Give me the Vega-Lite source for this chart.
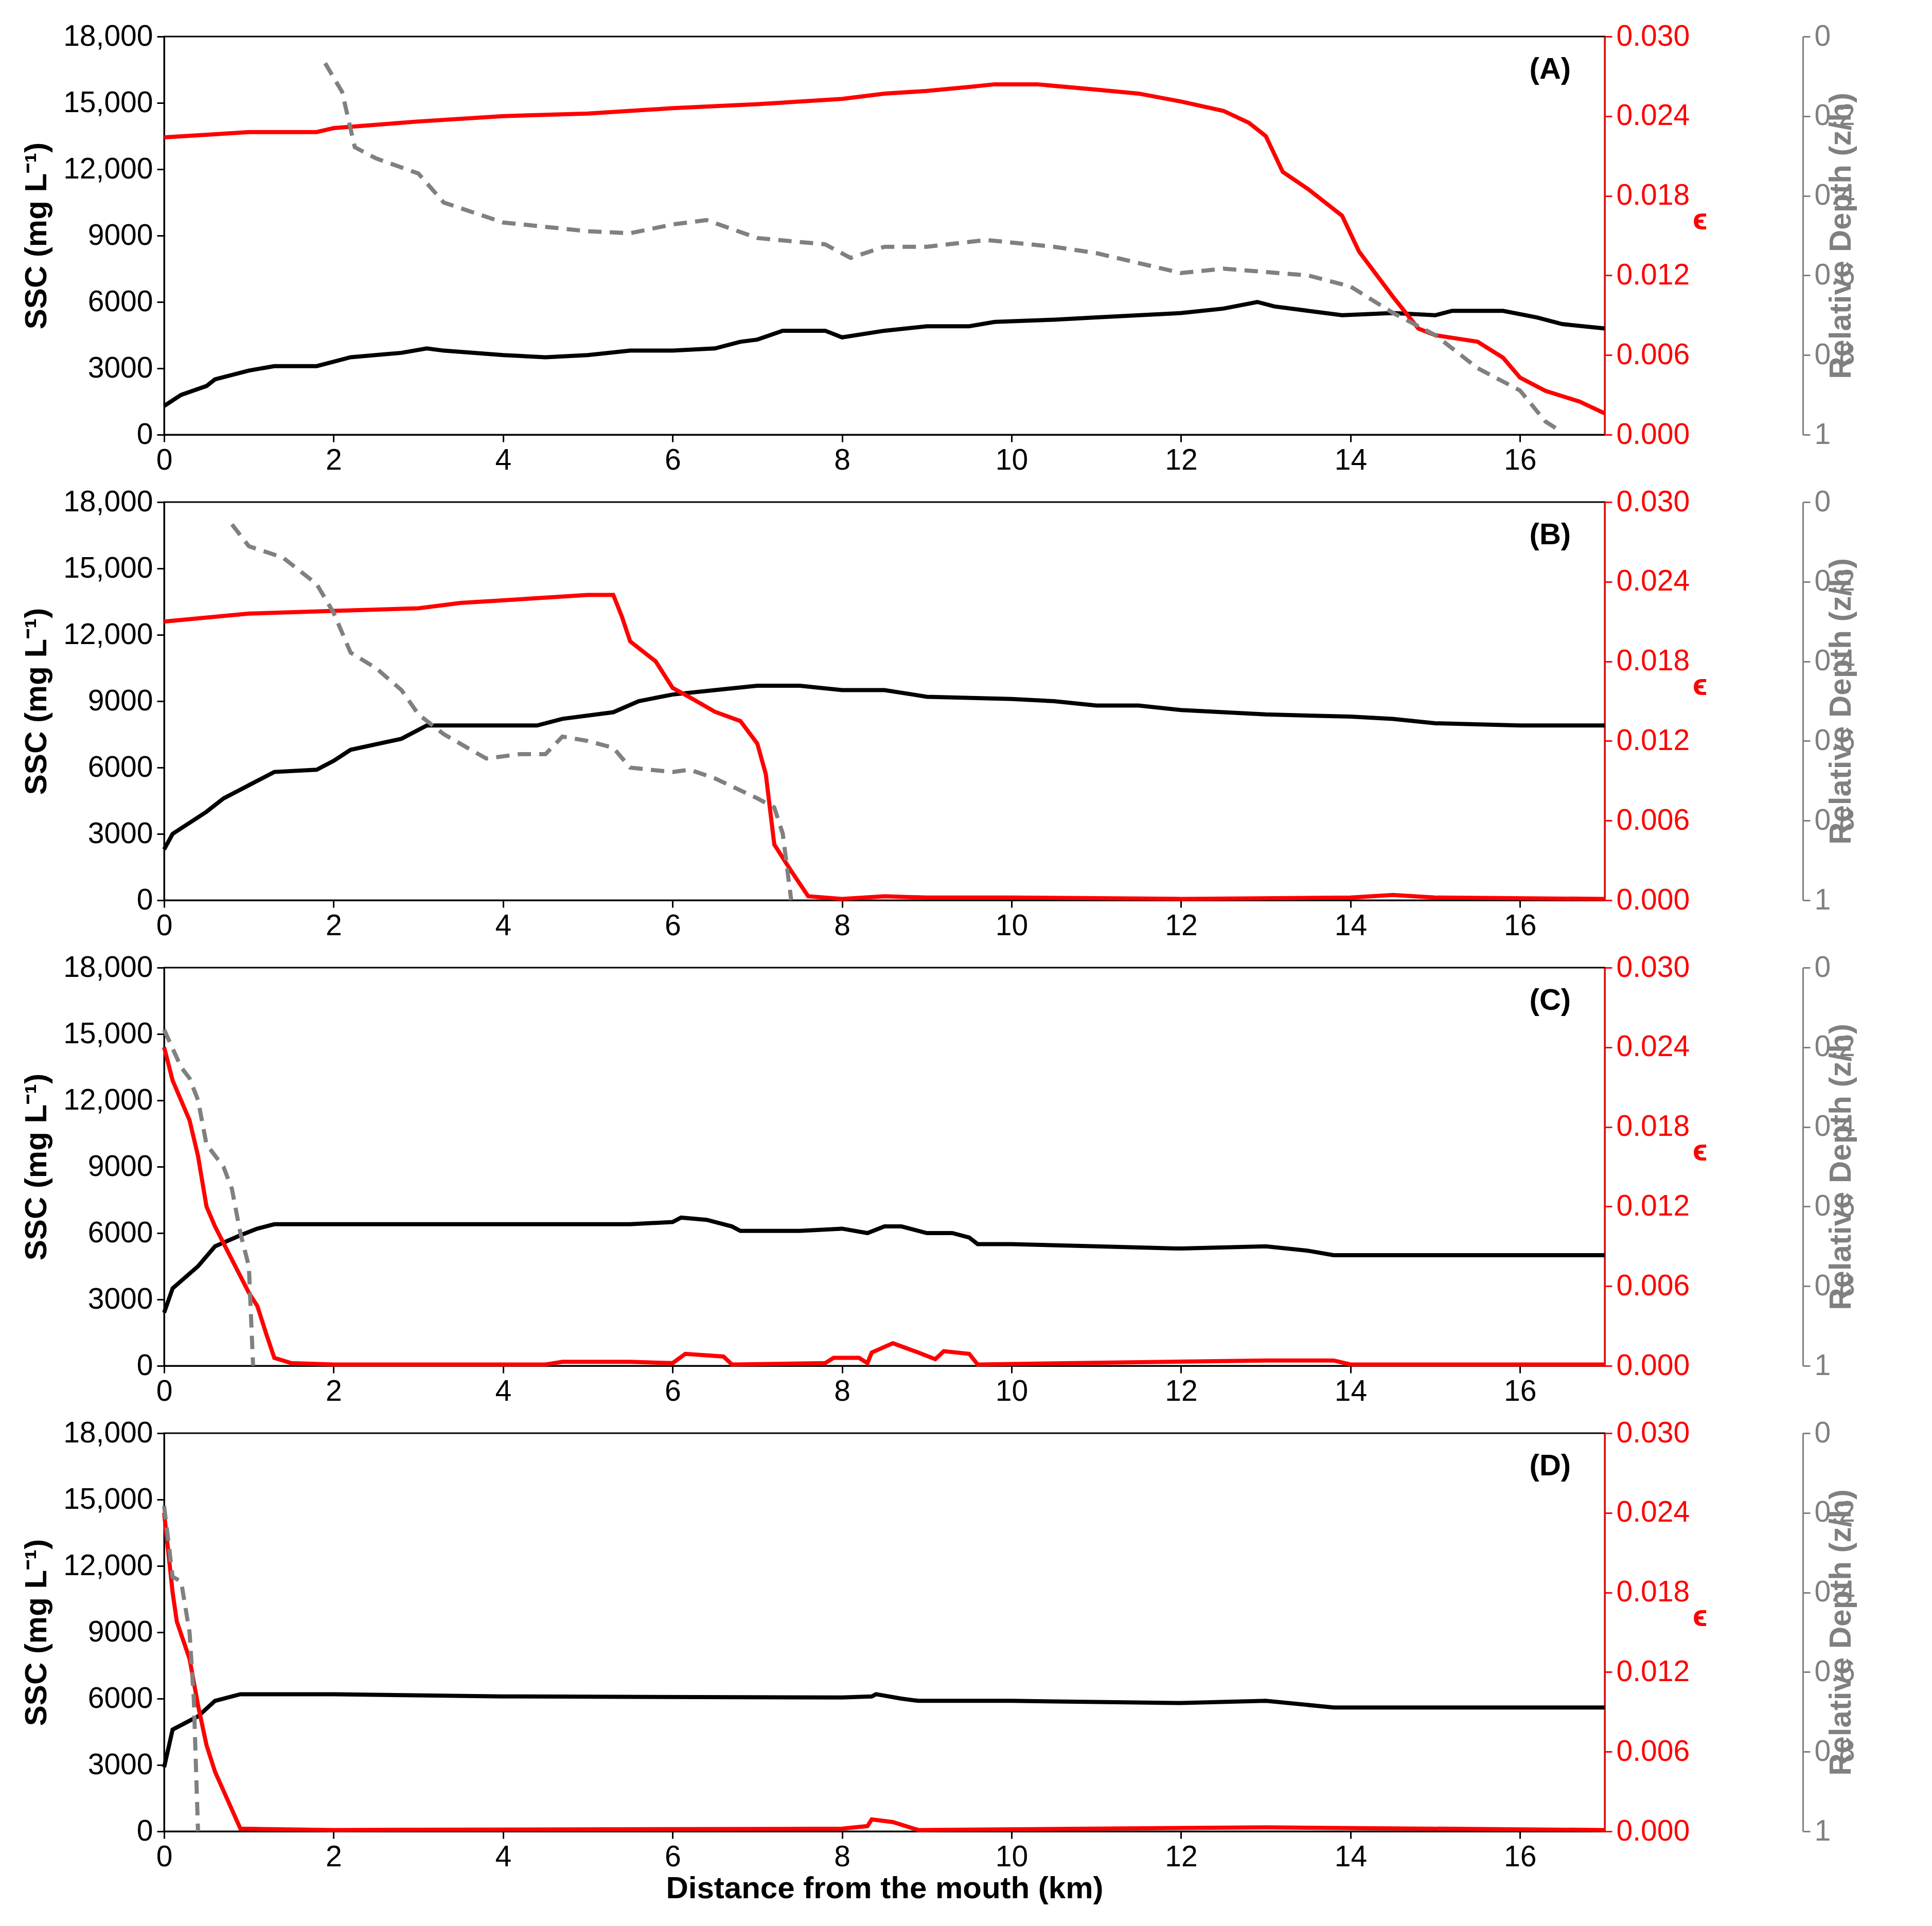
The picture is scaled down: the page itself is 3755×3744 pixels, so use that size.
{
  "$schema": "https://vega.github.io/schema/vega-lite/v6.json",
  "background": "white",
  "padding": {"left": 40, "top": 40, "right": 20, "bottom": 20},
  "datasets": {
    "A": [
      {"s": "ssc", "x": 0, "v": 1300}, {"s": "ssc", "x": 0.2, "v": 1800}, {"s": "ssc", "x": 0.5, "v": 2200}, {"s": "ssc", "x": 0.6, "v": 2500}, {"s": "ssc", "x": 1, "v": 2900}, {"s": "ssc", "x": 1.3, "v": 3100}, {"s": "ssc", "x": 1.8, "v": 3100}, {"s": "ssc", "x": 2, "v": 3300}, {"s": "ssc", "x": 2.2, "v": 3500}, {"s": "ssc", "x": 2.8, "v": 3700}, {"s": "ssc", "x": 3.1, "v": 3900}, {"s": "ssc", "x": 3.3, "v": 3800}, {"s": "ssc", "x": 4, "v": 3600}, {"s": "ssc", "x": 4.5, "v": 3500}, {"s": "ssc", "x": 5, "v": 3600}, {"s": "ssc", "x": 5.5, "v": 3800}, {"s": "ssc", "x": 6, "v": 3800}, {"s": "ssc", "x": 6.5, "v": 3900}, {"s": "ssc", "x": 6.8, "v": 4200}, {"s": "ssc", "x": 7, "v": 4300}, {"s": "ssc", "x": 7.3, "v": 4700}, {"s": "ssc", "x": 7.8, "v": 4700}, {"s": "ssc", "x": 8, "v": 4400}, {"s": "ssc", "x": 8.5, "v": 4700}, {"s": "ssc", "x": 9, "v": 4900}, {"s": "ssc", "x": 9.5, "v": 4900}, {"s": "ssc", "x": 9.8, "v": 5100}, {"s": "ssc", "x": 10.5, "v": 5200}, {"s": "ssc", "x": 11, "v": 5300}, {"s": "ssc", "x": 12, "v": 5500}, {"s": "ssc", "x": 12.5, "v": 5700}, {"s": "ssc", "x": 12.9, "v": 6000}, {"s": "ssc", "x": 13.1, "v": 5800}, {"s": "ssc", "x": 13.5, "v": 5600}, {"s": "ssc", "x": 13.9, "v": 5400}, {"s": "ssc", "x": 14.5, "v": 5500}, {"s": "ssc", "x": 15, "v": 5400}, {"s": "ssc", "x": 15.2, "v": 5600}, {"s": "ssc", "x": 15.8, "v": 5600}, {"s": "ssc", "x": 16.2, "v": 5300}, {"s": "ssc", "x": 16.5, "v": 5000}, {"s": "ssc", "x": 17, "v": 4800},
      {"s": "eps", "x": 0, "v": 0.0224}, {"s": "eps", "x": 0.5, "v": 0.0226}, {"s": "eps", "x": 1, "v": 0.0228}, {"s": "eps", "x": 1.8, "v": 0.0228}, {"s": "eps", "x": 2, "v": 0.0231}, {"s": "eps", "x": 3, "v": 0.0236}, {"s": "eps", "x": 4, "v": 0.024}, {"s": "eps", "x": 5, "v": 0.0242}, {"s": "eps", "x": 6, "v": 0.0246}, {"s": "eps", "x": 7, "v": 0.0249}, {"s": "eps", "x": 8, "v": 0.0253}, {"s": "eps", "x": 8.5, "v": 0.0257}, {"s": "eps", "x": 9, "v": 0.0259}, {"s": "eps", "x": 9.5, "v": 0.0262}, {"s": "eps", "x": 9.8, "v": 0.0264}, {"s": "eps", "x": 10.3, "v": 0.0264}, {"s": "eps", "x": 11, "v": 0.026}, {"s": "eps", "x": 11.5, "v": 0.0257}, {"s": "eps", "x": 12, "v": 0.0251}, {"s": "eps", "x": 12.5, "v": 0.0244}, {"s": "eps", "x": 12.8, "v": 0.0235}, {"s": "eps", "x": 13, "v": 0.0225}, {"s": "eps", "x": 13.2, "v": 0.0198}, {"s": "eps", "x": 13.5, "v": 0.0185}, {"s": "eps", "x": 13.9, "v": 0.0165}, {"s": "eps", "x": 14.1, "v": 0.0138}, {"s": "eps", "x": 14.5, "v": 0.0104}, {"s": "eps", "x": 14.8, "v": 0.008}, {"s": "eps", "x": 15, "v": 0.0075}, {"s": "eps", "x": 15.5, "v": 0.007}, {"s": "eps", "x": 15.8, "v": 0.0058}, {"s": "eps", "x": 16, "v": 0.0043}, {"s": "eps", "x": 16.3, "v": 0.0033}, {"s": "eps", "x": 16.7, "v": 0.0025}, {"s": "eps", "x": 17, "v": 0.0016},
      {"s": "dep", "x": 1.9, "v": 0.067}, {"s": "dep", "x": 2.1, "v": 0.139}, {"s": "dep", "x": 2.25, "v": 0.278}, {"s": "dep", "x": 2.5, "v": 0.306}, {"s": "dep", "x": 3, "v": 0.344}, {"s": "dep", "x": 3.3, "v": 0.417}, {"s": "dep", "x": 4, "v": 0.467}, {"s": "dep", "x": 5, "v": 0.489}, {"s": "dep", "x": 5.5, "v": 0.494}, {"s": "dep", "x": 6, "v": 0.472}, {"s": "dep", "x": 6.4, "v": 0.461}, {"s": "dep", "x": 7, "v": 0.506}, {"s": "dep", "x": 7.8, "v": 0.522}, {"s": "dep", "x": 8.1, "v": 0.556}, {"s": "dep", "x": 8.5, "v": 0.528}, {"s": "dep", "x": 9, "v": 0.528}, {"s": "dep", "x": 9.7, "v": 0.511}, {"s": "dep", "x": 10.5, "v": 0.528}, {"s": "dep", "x": 11, "v": 0.544}, {"s": "dep", "x": 12, "v": 0.594}, {"s": "dep", "x": 12.5, "v": 0.583}, {"s": "dep", "x": 13.5, "v": 0.6}, {"s": "dep", "x": 14, "v": 0.628}, {"s": "dep", "x": 14.5, "v": 0.694}, {"s": "dep", "x": 15, "v": 0.75}, {"s": "dep", "x": 15.5, "v": 0.833}, {"s": "dep", "x": 16, "v": 0.889}, {"s": "dep", "x": 16.3, "v": 0.967}, {"s": "dep", "x": 16.5, "v": 0.994}
    ],
    "B": [
      {"s": "ssc", "x": 0, "v": 2300}, {"s": "ssc", "x": 0.1, "v": 3000}, {"s": "ssc", "x": 0.5, "v": 4000}, {"s": "ssc", "x": 0.7, "v": 4600}, {"s": "ssc", "x": 1, "v": 5200}, {"s": "ssc", "x": 1.3, "v": 5800}, {"s": "ssc", "x": 1.8, "v": 5900}, {"s": "ssc", "x": 2, "v": 6300}, {"s": "ssc", "x": 2.2, "v": 6800}, {"s": "ssc", "x": 2.8, "v": 7300}, {"s": "ssc", "x": 3.1, "v": 7900}, {"s": "ssc", "x": 3.3, "v": 7900}, {"s": "ssc", "x": 4, "v": 7900}, {"s": "ssc", "x": 4.4, "v": 7900}, {"s": "ssc", "x": 4.7, "v": 8200}, {"s": "ssc", "x": 5.3, "v": 8500}, {"s": "ssc", "x": 5.6, "v": 9000}, {"s": "ssc", "x": 6, "v": 9300}, {"s": "ssc", "x": 6.5, "v": 9500}, {"s": "ssc", "x": 7, "v": 9700}, {"s": "ssc", "x": 7.5, "v": 9700}, {"s": "ssc", "x": 8, "v": 9500}, {"s": "ssc", "x": 8.5, "v": 9500}, {"s": "ssc", "x": 9, "v": 9200}, {"s": "ssc", "x": 10, "v": 9100}, {"s": "ssc", "x": 10.5, "v": 9000}, {"s": "ssc", "x": 11, "v": 8800}, {"s": "ssc", "x": 11.5, "v": 8800}, {"s": "ssc", "x": 12, "v": 8600}, {"s": "ssc", "x": 13, "v": 8400}, {"s": "ssc", "x": 14, "v": 8300}, {"s": "ssc", "x": 14.5, "v": 8200}, {"s": "ssc", "x": 15, "v": 8000}, {"s": "ssc", "x": 16, "v": 7900}, {"s": "ssc", "x": 17, "v": 7900},
      {"s": "eps", "x": 0, "v": 0.021}, {"s": "eps", "x": 1, "v": 0.0216}, {"s": "eps", "x": 2, "v": 0.0218}, {"s": "eps", "x": 3, "v": 0.022}, {"s": "eps", "x": 3.5, "v": 0.0224}, {"s": "eps", "x": 4, "v": 0.0226}, {"s": "eps", "x": 4.5, "v": 0.0228}, {"s": "eps", "x": 5, "v": 0.023}, {"s": "eps", "x": 5.3, "v": 0.023}, {"s": "eps", "x": 5.4, "v": 0.0214}, {"s": "eps", "x": 5.5, "v": 0.0195}, {"s": "eps", "x": 5.8, "v": 0.018}, {"s": "eps", "x": 6, "v": 0.016}, {"s": "eps", "x": 6.2, "v": 0.0153}, {"s": "eps", "x": 6.5, "v": 0.0142}, {"s": "eps", "x": 6.8, "v": 0.0135}, {"s": "eps", "x": 7, "v": 0.0118}, {"s": "eps", "x": 7.1, "v": 0.0095}, {"s": "eps", "x": 7.2, "v": 0.0042}, {"s": "eps", "x": 7.4, "v": 0.0022}, {"s": "eps", "x": 7.6, "v": 0.0003}, {"s": "eps", "x": 8, "v": 0.0001}, {"s": "eps", "x": 8.5, "v": 0.0003}, {"s": "eps", "x": 9, "v": 0.0002}, {"s": "eps", "x": 10, "v": 0.0002}, {"s": "eps", "x": 12, "v": 0.0001}, {"s": "eps", "x": 14, "v": 0.0002}, {"s": "eps", "x": 14.5, "v": 0.0004}, {"s": "eps", "x": 15, "v": 0.0002}, {"s": "eps", "x": 17, "v": 0.0001},
      {"s": "dep", "x": 0.8, "v": 0.056}, {"s": "dep", "x": 1, "v": 0.111}, {"s": "dep", "x": 1.4, "v": 0.139}, {"s": "dep", "x": 1.8, "v": 0.206}, {"s": "dep", "x": 2, "v": 0.278}, {"s": "dep", "x": 2.2, "v": 0.378}, {"s": "dep", "x": 2.5, "v": 0.417}, {"s": "dep", "x": 2.8, "v": 0.472}, {"s": "dep", "x": 3, "v": 0.533}, {"s": "dep", "x": 3.3, "v": 0.583}, {"s": "dep", "x": 3.8, "v": 0.644}, {"s": "dep", "x": 4.2, "v": 0.633}, {"s": "dep", "x": 4.5, "v": 0.633}, {"s": "dep", "x": 4.7, "v": 0.589}, {"s": "dep", "x": 5, "v": 0.6}, {"s": "dep", "x": 5.3, "v": 0.617}, {"s": "dep", "x": 5.5, "v": 0.667}, {"s": "dep", "x": 6, "v": 0.678}, {"s": "dep", "x": 6.2, "v": 0.672}, {"s": "dep", "x": 6.5, "v": 0.694}, {"s": "dep", "x": 7, "v": 0.744}, {"s": "dep", "x": 7.2, "v": 0.767}, {"s": "dep", "x": 7.3, "v": 0.833}, {"s": "dep", "x": 7.35, "v": 0.917}, {"s": "dep", "x": 7.4, "v": 1.0}
    ],
    "C": [
      {"s": "ssc", "x": 0, "v": 2400}, {"s": "ssc", "x": 0.1, "v": 3500}, {"s": "ssc", "x": 0.4, "v": 4500}, {"s": "ssc", "x": 0.6, "v": 5400}, {"s": "ssc", "x": 0.9, "v": 5900}, {"s": "ssc", "x": 1.1, "v": 6200}, {"s": "ssc", "x": 1.3, "v": 6400}, {"s": "ssc", "x": 2, "v": 6400}, {"s": "ssc", "x": 4, "v": 6400}, {"s": "ssc", "x": 5, "v": 6400}, {"s": "ssc", "x": 5.5, "v": 6400}, {"s": "ssc", "x": 6, "v": 6500}, {"s": "ssc", "x": 6.1, "v": 6700}, {"s": "ssc", "x": 6.4, "v": 6600}, {"s": "ssc", "x": 6.7, "v": 6300}, {"s": "ssc", "x": 6.8, "v": 6100}, {"s": "ssc", "x": 7.5, "v": 6100}, {"s": "ssc", "x": 8, "v": 6200}, {"s": "ssc", "x": 8.3, "v": 6000}, {"s": "ssc", "x": 8.5, "v": 6300}, {"s": "ssc", "x": 8.7, "v": 6300}, {"s": "ssc", "x": 9, "v": 6000}, {"s": "ssc", "x": 9.3, "v": 6000}, {"s": "ssc", "x": 9.5, "v": 5800}, {"s": "ssc", "x": 9.6, "v": 5500}, {"s": "ssc", "x": 10, "v": 5500}, {"s": "ssc", "x": 11, "v": 5400}, {"s": "ssc", "x": 12, "v": 5300}, {"s": "ssc", "x": 13, "v": 5400}, {"s": "ssc", "x": 13.5, "v": 5200}, {"s": "ssc", "x": 13.8, "v": 5000}, {"s": "ssc", "x": 17, "v": 5000},
      {"s": "eps", "x": 0, "v": 0.024}, {"s": "eps", "x": 0.1, "v": 0.0215}, {"s": "eps", "x": 0.3, "v": 0.0185}, {"s": "eps", "x": 0.4, "v": 0.0158}, {"s": "eps", "x": 0.5, "v": 0.012}, {"s": "eps", "x": 0.6, "v": 0.0105}, {"s": "eps", "x": 0.8, "v": 0.008}, {"s": "eps", "x": 1, "v": 0.0055}, {"s": "eps", "x": 1.1, "v": 0.0045}, {"s": "eps", "x": 1.2, "v": 0.0025}, {"s": "eps", "x": 1.3, "v": 0.0006}, {"s": "eps", "x": 1.5, "v": 0.0002}, {"s": "eps", "x": 2, "v": 0.0001}, {"s": "eps", "x": 4.5, "v": 0.0001}, {"s": "eps", "x": 4.7, "v": 0.0003}, {"s": "eps", "x": 5.5, "v": 0.0003}, {"s": "eps", "x": 6, "v": 0.0002}, {"s": "eps", "x": 6.15, "v": 0.0009}, {"s": "eps", "x": 6.6, "v": 0.0007}, {"s": "eps", "x": 6.7, "v": 0.0001}, {"s": "eps", "x": 7.8, "v": 0.0002}, {"s": "eps", "x": 7.9, "v": 0.0006}, {"s": "eps", "x": 8.2, "v": 0.0006}, {"s": "eps", "x": 8.3, "v": 0.0002}, {"s": "eps", "x": 8.35, "v": 0.001}, {"s": "eps", "x": 8.6, "v": 0.0017}, {"s": "eps", "x": 8.9, "v": 0.001}, {"s": "eps", "x": 9.1, "v": 0.0005}, {"s": "eps", "x": 9.2, "v": 0.0011}, {"s": "eps", "x": 9.5, "v": 0.0009}, {"s": "eps", "x": 9.6, "v": 0.0001}, {"s": "eps", "x": 13, "v": 0.0004}, {"s": "eps", "x": 13.8, "v": 0.0004}, {"s": "eps", "x": 14, "v": 0.0001}, {"s": "eps", "x": 17, "v": 0.0001},
      {"s": "dep", "x": 0, "v": 0.156}, {"s": "dep", "x": 0.2, "v": 0.25}, {"s": "dep", "x": 0.3, "v": 0.278}, {"s": "dep", "x": 0.4, "v": 0.333}, {"s": "dep", "x": 0.5, "v": 0.444}, {"s": "dep", "x": 0.7, "v": 0.5}, {"s": "dep", "x": 0.8, "v": 0.556}, {"s": "dep", "x": 0.9, "v": 0.667}, {"s": "dep", "x": 1, "v": 0.75}, {"s": "dep", "x": 1.05, "v": 1}
    ],
    "D": [
      {"s": "ssc", "x": 0, "v": 2900}, {"s": "ssc", "x": 0.1, "v": 4600}, {"s": "ssc", "x": 0.4, "v": 5200}, {"s": "ssc", "x": 0.6, "v": 5900}, {"s": "ssc", "x": 0.9, "v": 6200}, {"s": "ssc", "x": 2, "v": 6200}, {"s": "ssc", "x": 4, "v": 6100}, {"s": "ssc", "x": 8, "v": 6050}, {"s": "ssc", "x": 8.35, "v": 6100}, {"s": "ssc", "x": 8.4, "v": 6200}, {"s": "ssc", "x": 8.7, "v": 6000}, {"s": "ssc", "x": 8.9, "v": 5900}, {"s": "ssc", "x": 10, "v": 5900}, {"s": "ssc", "x": 12, "v": 5800}, {"s": "ssc", "x": 13, "v": 5900}, {"s": "ssc", "x": 13.8, "v": 5600}, {"s": "ssc", "x": 17, "v": 5600},
      {"s": "eps", "x": 0, "v": 0.024}, {"s": "eps", "x": 0.1, "v": 0.018}, {"s": "eps", "x": 0.15, "v": 0.0158}, {"s": "eps", "x": 0.3, "v": 0.013}, {"s": "eps", "x": 0.4, "v": 0.0095}, {"s": "eps", "x": 0.5, "v": 0.0065}, {"s": "eps", "x": 0.6, "v": 0.0045}, {"s": "eps", "x": 0.9, "v": 0.0002}, {"s": "eps", "x": 2, "v": 0.0001}, {"s": "eps", "x": 8, "v": 0.0002}, {"s": "eps", "x": 8.3, "v": 0.0004}, {"s": "eps", "x": 8.35, "v": 0.0009}, {"s": "eps", "x": 8.6, "v": 0.0007}, {"s": "eps", "x": 8.9, "v": 0.0001}, {"s": "eps", "x": 13, "v": 0.0003}, {"s": "eps", "x": 17, "v": 0.0001},
      {"s": "dep", "x": 0, "v": 0.183}, {"s": "dep", "x": 0.1, "v": 0.361}, {"s": "dep", "x": 0.2, "v": 0.372}, {"s": "dep", "x": 0.3, "v": 0.5}, {"s": "dep", "x": 0.35, "v": 0.667}, {"s": "dep", "x": 0.4, "v": 1}
    ]
  },
  "config": {
    "font": "Arial",
    "view": {"stroke": "black", "strokeWidth": 3},
    "axis": {"grid": false, "labelFontSize": 57, "titleFontSize": 60, "titleFontWeight": "bold", "domainWidth": 3, "tickWidth": 3, "tickSize": 14, "labelPadding": 8, "labelFlush": false, "domainColor": "black", "tickColor": "black", "labelColor": "black"}
  },
  "spacing": 20,
  "vconcat": [
    {"width": 2800, "height": 774, "data": {"name": "A"}, "resolve": {"scale": {"y": "independent"}},
     "layer": [
      {"layer": [
        {"transform": [{"filter": "datum.s==='ssc'"}], "mark": {"type": "line", "color": "black", "strokeWidth": 8},
         "encoding": {"x": {"field": "x", "type": "quantitative", "scale": {"domain": [0, 17], "nice": false}, "axis": {"values": [0,2,4,6,8,10,12,14,16], "format": "d", "title": null}},
                      "y": {"field": "v", "type": "quantitative", "scale": {"domain": [0, 18000]}, "axis": {"values": [0,3000,6000,9000,12000,15000,18000], "labelExpr": "datum.value>=10000 ? format(datum.value, ',') : format(datum.value, 'd')", "title": "SSC (mg L⁻¹)", "titlePadding": 20}}}},
        {"data": {"values": [{"x": 16.6, "v": 16500, "t": "(A)"}]}, "mark": {"type": "text", "fontSize": 58, "fontWeight": "bold", "align": "right"},
         "encoding": {"x": {"field": "x", "type": "quantitative"}, "y": {"field": "v", "type": "quantitative"}, "text": {"field": "t"}}}
      ]},
      {"transform": [{"filter": "datum.s==='eps'"}], "mark": {"type": "line", "color": "red", "strokeWidth": 8},
       "encoding": {"x": {"field": "x", "type": "quantitative"}, "y": {"field": "v", "type": "quantitative", "scale": {"domain": [0, 0.03]}, "axis": {"orient": "right", "values": [0,0.006,0.012,0.018,0.024,0.03], "format": ".3f", "title": "ϵ", "titleAngle": 0, "titleColor": "red", "labelColor": "red", "domainColor": "red", "tickColor": "red", "titlePadding": 20}}}},
      {"transform": [{"filter": "datum.s==='dep'"}], "mark": {"type": "line", "color": "gray", "strokeWidth": 8, "strokeDash": [26, 16]},
       "encoding": {"x": {"field": "x", "type": "quantitative"}, "y": {"field": "v", "type": "quantitative", "scale": {"domain": [0, 1], "reverse": true}, "axis": {"orient": "right", "offset": 385, "values": [0,0.2,0.4,0.6,0.8,1], "format": "~g", "title": "Relative Depth (z/h)", "titleAngle": 270, "titleBaseline": "bottom", "titleColor": "gray", "labelColor": "gray", "domainColor": "gray", "tickColor": "gray"}}}}
     ]},
    {"width": 2800, "height": 774, "data": {"name": "B"}, "resolve": {"scale": {"y": "independent"}},
     "layer": [
      {"layer": [
        {"transform": [{"filter": "datum.s==='ssc'"}], "mark": {"type": "line", "color": "black", "strokeWidth": 8},
         "encoding": {"x": {"field": "x", "type": "quantitative", "scale": {"domain": [0, 17], "nice": false}, "axis": {"values": [0,2,4,6,8,10,12,14,16], "format": "d", "title": null}},
                      "y": {"field": "v", "type": "quantitative", "scale": {"domain": [0, 18000]}, "axis": {"values": [0,3000,6000,9000,12000,15000,18000], "labelExpr": "datum.value>=10000 ? format(datum.value, ',') : format(datum.value, 'd')", "title": "SSC (mg L⁻¹)", "titlePadding": 20}}}},
        {"data": {"values": [{"x": 16.6, "v": 16500, "t": "(B)"}]}, "mark": {"type": "text", "fontSize": 58, "fontWeight": "bold", "align": "right"},
         "encoding": {"x": {"field": "x", "type": "quantitative"}, "y": {"field": "v", "type": "quantitative"}, "text": {"field": "t"}}}
      ]},
      {"transform": [{"filter": "datum.s==='eps'"}], "mark": {"type": "line", "color": "red", "strokeWidth": 8},
       "encoding": {"x": {"field": "x", "type": "quantitative"}, "y": {"field": "v", "type": "quantitative", "scale": {"domain": [0, 0.03]}, "axis": {"orient": "right", "values": [0,0.006,0.012,0.018,0.024,0.03], "format": ".3f", "title": "ϵ", "titleAngle": 0, "titleColor": "red", "labelColor": "red", "domainColor": "red", "tickColor": "red", "titlePadding": 20}}}},
      {"transform": [{"filter": "datum.s==='dep'"}], "mark": {"type": "line", "color": "gray", "strokeWidth": 8, "strokeDash": [26, 16]},
       "encoding": {"x": {"field": "x", "type": "quantitative"}, "y": {"field": "v", "type": "quantitative", "scale": {"domain": [0, 1], "reverse": true}, "axis": {"orient": "right", "offset": 385, "values": [0,0.2,0.4,0.6,0.8,1], "format": "~g", "title": "Relative Depth (z/h)", "titleAngle": 270, "titleBaseline": "bottom", "titleColor": "gray", "labelColor": "gray", "domainColor": "gray", "tickColor": "gray"}}}}
     ]},
    {"width": 2800, "height": 774, "data": {"name": "C"}, "resolve": {"scale": {"y": "independent"}},
     "layer": [
      {"layer": [
        {"transform": [{"filter": "datum.s==='ssc'"}], "mark": {"type": "line", "color": "black", "strokeWidth": 8},
         "encoding": {"x": {"field": "x", "type": "quantitative", "scale": {"domain": [0, 17], "nice": false}, "axis": {"values": [0,2,4,6,8,10,12,14,16], "format": "d", "title": null}},
                      "y": {"field": "v", "type": "quantitative", "scale": {"domain": [0, 18000]}, "axis": {"values": [0,3000,6000,9000,12000,15000,18000], "labelExpr": "datum.value>=10000 ? format(datum.value, ',') : format(datum.value, 'd')", "title": "SSC (mg L⁻¹)", "titlePadding": 20}}}},
        {"data": {"values": [{"x": 16.6, "v": 16500, "t": "(C)"}]}, "mark": {"type": "text", "fontSize": 58, "fontWeight": "bold", "align": "right"},
         "encoding": {"x": {"field": "x", "type": "quantitative"}, "y": {"field": "v", "type": "quantitative"}, "text": {"field": "t"}}}
      ]},
      {"transform": [{"filter": "datum.s==='eps'"}], "mark": {"type": "line", "color": "red", "strokeWidth": 8},
       "encoding": {"x": {"field": "x", "type": "quantitative"}, "y": {"field": "v", "type": "quantitative", "scale": {"domain": [0, 0.03]}, "axis": {"orient": "right", "values": [0,0.006,0.012,0.018,0.024,0.03], "format": ".3f", "title": "ϵ", "titleAngle": 0, "titleColor": "red", "labelColor": "red", "domainColor": "red", "tickColor": "red", "titlePadding": 20}}}},
      {"transform": [{"filter": "datum.s==='dep'"}], "mark": {"type": "line", "color": "gray", "strokeWidth": 8, "strokeDash": [26, 16]},
       "encoding": {"x": {"field": "x", "type": "quantitative"}, "y": {"field": "v", "type": "quantitative", "scale": {"domain": [0, 1], "reverse": true}, "axis": {"orient": "right", "offset": 385, "values": [0,0.2,0.4,0.6,0.8,1], "format": "~g", "title": "Relative Depth (z/h)", "titleAngle": 270, "titleBaseline": "bottom", "titleColor": "gray", "labelColor": "gray", "domainColor": "gray", "tickColor": "gray"}}}}
     ]},
    {"width": 2800, "height": 774, "data": {"name": "D"}, "resolve": {"scale": {"y": "independent"}},
     "layer": [
      {"layer": [
        {"transform": [{"filter": "datum.s==='ssc'"}], "mark": {"type": "line", "color": "black", "strokeWidth": 8},
         "encoding": {"x": {"field": "x", "type": "quantitative", "scale": {"domain": [0, 17], "nice": false}, "axis": {"values": [0,2,4,6,8,10,12,14,16], "format": "d", "title": "Distance from the mouth (km)"}},
                      "y": {"field": "v", "type": "quantitative", "scale": {"domain": [0, 18000]}, "axis": {"values": [0,3000,6000,9000,12000,15000,18000], "labelExpr": "datum.value>=10000 ? format(datum.value, ',') : format(datum.value, 'd')", "title": "SSC (mg L⁻¹)", "titlePadding": 20}}}},
        {"data": {"values": [{"x": 16.6, "v": 16500, "t": "(D)"}]}, "mark": {"type": "text", "fontSize": 58, "fontWeight": "bold", "align": "right"},
         "encoding": {"x": {"field": "x", "type": "quantitative"}, "y": {"field": "v", "type": "quantitative"}, "text": {"field": "t"}}}
      ]},
      {"transform": [{"filter": "datum.s==='eps'"}], "mark": {"type": "line", "color": "red", "strokeWidth": 8},
       "encoding": {"x": {"field": "x", "type": "quantitative"}, "y": {"field": "v", "type": "quantitative", "scale": {"domain": [0, 0.03]}, "axis": {"orient": "right", "values": [0,0.006,0.012,0.018,0.024,0.03], "format": ".3f", "title": "ϵ", "titleAngle": 0, "titleColor": "red", "labelColor": "red", "domainColor": "red", "tickColor": "red", "titlePadding": 20}}}},
      {"transform": [{"filter": "datum.s==='dep'"}], "mark": {"type": "line", "color": "gray", "strokeWidth": 8, "strokeDash": [26, 16]},
       "encoding": {"x": {"field": "x", "type": "quantitative"}, "y": {"field": "v", "type": "quantitative", "scale": {"domain": [0, 1], "reverse": true}, "axis": {"orient": "right", "offset": 385, "values": [0,0.2,0.4,0.6,0.8,1], "format": "~g", "title": "Relative Depth (z/h)", "titleAngle": 270, "titleBaseline": "bottom", "titleColor": "gray", "labelColor": "gray", "domainColor": "gray", "tickColor": "gray"}}}}
     ]}
  ]
}
